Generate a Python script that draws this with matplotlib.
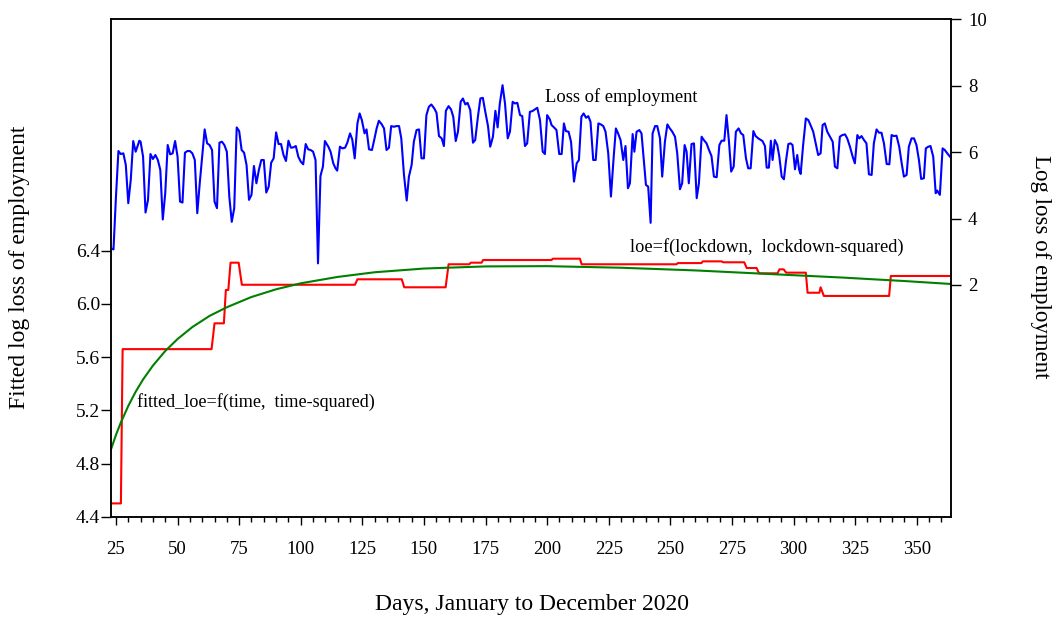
import numpy as np
import matplotlib
matplotlib.use("Agg")
import matplotlib.pyplot as plt
from matplotlib.ticker import MultipleLocator

plt.rcParams['font.family'] = ['Liberation Serif', 'DejaVu Serif']

# Loss of employment (log), right axis
blue_days = [23.0, 24.0, 25.0, 26.0, 26.9, 28.0, 29.0, 30.0, 31.0, 32.0, 33.0, 34.5, 35.0, 36.0, 37.0, 38.0,
             39.0, 40.0, 41.0, 42.0, 43.0, 44.0, 45.0, 46.0, 47.0, 48.0, 49.0, 50.0, 51.0, 52.0, 53.0, 54.0,
             55.0, 56.0, 57.0, 58.0, 59.0, 60.0, 61.0, 62.0, 63.0, 64.0, 65.0, 66.0, 67.0, 68.0, 69.0, 70.0,
             71.0, 72.0, 73.0, 74.0, 75.0, 76.0, 77.0, 78.0, 79.0, 80.0, 81.0, 82.0, 83.0, 84.0, 85.0, 86.0,
             87.0, 88.0, 89.0, 90.0, 91.0, 92.0, 93.0, 94.0, 95.0, 96.0, 97.0, 98.0, 99.0, 100.0, 101.0, 102.0,
             103.0, 104.0, 105.0, 106.0, 107.0, 108.0, 109.0, 109.8, 111.2, 112.1, 113.2, 114.1, 114.8, 115.9,
             116.9, 118.0, 118.9, 120.0, 120.9, 121.9, 123.0, 123.9, 124.8, 125.9, 126.7, 127.7, 128.9, 129.8,
             130.8, 131.7, 132.8, 133.8, 134.8, 135.8, 136.7, 137.8, 138.9, 139.9, 140.8, 141.9, 143.0, 143.9,
             145.0, 145.9, 147.0, 148.0, 149.0, 150.0, 151.0, 152.0, 153.0, 154.2, 155.1, 156.1, 157.2, 158.1,
             158.9, 160.0, 161.0, 161.9, 162.9, 163.8, 164.9, 165.8, 166.8, 167.7, 168.8, 169.9, 170.8, 171.9,
             172.9, 173.9, 174.9, 176.0, 176.9, 178.0, 179.0, 179.9, 180.8, 181.9, 182.9, 184.0, 184.9, 186.0,
             186.9, 187.9, 189.0, 189.9, 191.0, 191.9, 193.0, 194.0, 195.0, 196.0, 197.1, 198.2, 199.1, 200.0,
             201.1, 201.8, 202.8, 203.8, 204.9, 205.9, 206.8, 207.6, 208.7, 209.7, 210.9, 212.0, 212.9, 213.9,
             214.8, 215.8, 216.7, 217.6, 218.7, 219.7, 220.8, 221.8, 222.8, 223.7, 224.8, 225.9, 227.0, 227.9,
             228.9, 229.8, 230.9, 231.8, 232.8, 233.6, 234.7, 235.4, 236.3, 237.4, 238.3, 239.3, 240.1, 241.0,
             242.0, 242.8, 243.8, 244.7, 245.8, 246.7, 247.8, 248.8, 249.8, 250.8, 251.9, 252.8, 253.9, 254.8,
             255.8, 256.6, 257.5, 258.6, 259.6, 260.7, 261.6, 262.7, 263.6, 264.7, 265.7, 266.7, 267.7, 268.8,
             269.9, 270.8, 271.9, 272.8, 273.8, 274.7, 275.7, 276.6, 277.7, 278.7, 279.6, 280.7, 281.6, 282.6,
             283.7, 284.6, 285.7, 287.4, 288.4, 289.1, 290.0, 290.8, 291.5, 292.4, 293.4, 294.2, 295.2, 296.1,
             296.9, 297.9, 298.8, 299.6, 300.6, 301.5, 302.3, 302.9, 303.9, 305.0, 306.0, 306.9, 308.0, 309.0,
             310.0, 311.0, 311.8, 312.7, 313.7, 314.8, 315.9, 316.8, 317.8, 318.8, 319.8, 320.9, 321.8, 322.9,
             324.0, 324.9, 325.9, 326.7, 327.6, 328.6, 329.6, 330.6, 331.7, 332.6, 333.7, 334.7, 335.7, 336.7,
             337.8, 338.9, 339.8, 340.7, 341.8, 342.9, 343.9, 344.8, 345.9, 346.8, 347.9, 348.9, 349.9, 350.9,
             351.8, 352.9, 353.7, 354.7, 355.6, 356.7, 357.7, 358.3, 359.4, 360.5, 361.4, 362.4, 363.5]
blue_vals = [3.10, 3.07, 4.66, 6.03, 5.94, 5.96, 5.61, 4.46, 5.16, 6.33, 6.01, 6.34, 6.31, 5.86, 4.18, 4.56,
             5.94, 5.79, 5.91, 5.76, 5.46, 3.97, 4.76, 6.21, 5.93, 5.96, 6.33, 5.86, 4.51, 4.48, 5.98, 6.03,
             6.03, 5.96, 5.76, 4.16, 5.06, 5.88, 6.68, 6.26, 6.21, 6.06, 4.51, 4.31, 6.28, 6.31, 6.21, 6.01,
             4.66, 3.90, 4.31, 6.74, 6.63, 6.06, 5.98, 5.61, 4.56, 4.71, 5.58, 5.06, 5.46, 5.76, 5.76, 4.78,
             4.96, 5.68, 5.81, 6.59, 6.24, 6.24, 5.91, 5.73, 6.34, 6.13, 6.14, 6.18, 5.86, 5.71, 5.63, 6.24,
             6.08, 6.06, 6.01, 5.76, 2.65, 5.28, 5.56, 6.33, 6.16, 6.01, 5.66, 5.51, 5.44, 6.16,
             6.11, 6.13, 6.28, 6.56, 6.38, 5.81, 6.86, 7.16, 6.96, 6.56, 6.68, 6.08, 6.06, 6.36,
             6.71, 6.94, 6.84, 6.71, 6.06, 6.13, 6.78, 6.76, 6.78, 6.78, 6.41, 5.31, 4.54, 5.26,
             5.61, 6.31, 6.66, 6.68, 5.81, 5.81, 7.11, 7.36, 7.43, 7.31, 7.18, 6.48, 6.41, 6.18,
             7.24, 7.38, 7.28, 7.06, 6.33, 6.61, 7.51, 7.61, 7.43, 7.48, 7.26, 6.28, 6.36, 7.06,
             7.61, 7.63, 7.21, 6.78, 6.16, 6.46, 7.24, 6.74, 7.46, 8.01, 7.46, 6.41, 6.61, 7.51,
             7.46, 7.48, 7.11, 7.08, 6.18, 6.26, 7.21, 7.23, 7.28, 7.33, 6.96, 6.01, 5.94, 7.11,
             6.98, 6.81, 6.74, 6.66, 5.94, 5.94, 6.86, 6.63, 6.61, 6.31, 5.11, 5.66, 5.76, 7.06,
             7.16, 7.03, 7.08, 6.91, 5.76, 5.76, 6.86, 6.83, 6.78, 6.61, 5.96, 4.66, 5.84, 6.71,
             6.54, 6.36, 5.76, 6.18, 4.91, 5.06, 6.54, 6.01, 6.61, 6.66, 6.56, 5.71, 5.01, 4.96,
             3.87, 6.56, 6.78, 6.78, 6.41, 5.26, 6.31, 6.83, 6.71, 6.61, 6.46, 5.96, 4.88, 5.06,
             6.21, 6.01, 5.06, 6.24, 6.26, 4.61, 5.06, 6.46, 6.36, 6.26, 6.06, 5.88, 5.26, 5.24,
             6.21, 6.34, 6.34, 7.11, 6.31, 5.41, 5.56, 6.61, 6.71, 6.56, 6.51, 5.81, 5.51, 5.51,
             6.63, 6.48, 6.41, 6.33, 6.18, 5.53, 5.53, 6.34, 5.76, 6.36, 6.21, 5.88, 5.26, 5.18,
             5.71, 6.24, 6.26, 6.21, 5.48, 5.91, 5.46, 5.34, 6.21, 7.01, 6.96, 6.81, 6.61, 6.26,
             5.91, 5.96, 6.81, 6.86, 6.61, 6.46, 6.31, 5.56, 5.51, 6.46, 6.51, 6.53, 6.41, 6.16,
             5.86, 5.66, 6.51, 6.41, 6.48, 6.36, 6.26, 5.33, 5.31, 6.26, 6.68, 6.58, 6.58, 6.26,
             5.64, 5.63, 6.51, 6.48, 6.49, 6.16, 5.66, 5.26, 5.31, 6.16, 6.41, 6.41, 6.21, 5.76,
             5.19, 5.21, 6.11, 6.16, 6.18, 5.86, 4.76, 4.84, 4.71, 6.11, 6.06, 5.96, 5.86]

# loe = f(lockdown, lockdown-squared), left axis
red_days = [23, 27, 27.7, 63.8, 65, 68.8, 69.6, 70.6, 71.5, 74.8, 76.1, 122, 123, 141, 142, 158.8, 160,
            168.4, 169, 173.4, 174, 201.8, 202.3, 213.3, 214, 252.5, 253, 262.6, 263.2, 270.8, 271.5,
            280, 281, 285, 286, 293.5, 294.3, 296, 297, 305, 305.7, 310.5, 311, 312.3, 338.8, 339.5, 363.8]
red_vals = [4.50, 4.50, 5.66, 5.66, 5.854, 5.854, 6.105, 6.105, 6.31, 6.31, 6.144, 6.144, 6.185, 6.185,
            6.125, 6.125, 6.298, 6.298, 6.31, 6.31, 6.33, 6.33, 6.34, 6.34, 6.298, 6.298, 6.307, 6.307,
            6.32, 6.32, 6.313, 6.313, 6.27, 6.27, 6.23, 6.23, 6.26, 6.26, 6.235, 6.235, 6.084, 6.084,
            6.125, 6.06, 6.06, 6.21, 6.21]

# fitted_loe = f(time, time-squared), left axis
green_days = [23, 25, 27, 30, 33, 36, 40, 45, 50, 56, 63, 70, 80, 90, 100, 115, 130, 150, 175, 200,
              230, 260, 290, 320, 345, 363.8]
green_vals = [4.907, 5.015, 5.109, 5.233, 5.340, 5.432, 5.536, 5.646, 5.736, 5.826, 5.910, 5.975, 6.052,
              6.110, 6.155, 6.203, 6.238, 6.266, 6.282, 6.284, 6.272, 6.252, 6.225, 6.198, 6.172, 6.150]

fig = plt.figure(figsize=(10.58, 6.18), dpi=100)
ax = fig.add_axes([0.1046, 0.1639, 0.7940, 0.8053])
ax.plot(red_days, red_vals, color='#ff0000', linewidth=1.5)
ax.plot(green_days, green_vals, color='#008000', linewidth=1.5)
ax.set_xlim(22.85, 363.8)
ax.set_ylim(4.4, 8.142)
ax.set_yticks([4.4, 4.8, 5.2, 5.6, 6.0, 6.4])
ax.set_yticklabels(['4.4', '4.8', '5.2', '5.6', '6.0', '6.4'])
ax.set_xticks(np.arange(25, 351, 25))
ax.xaxis.set_minor_locator(MultipleLocator(5))
ax.tick_params(axis='x', which='major', length=5.5, width=1, labelsize=13.5, pad=12)
ax.tick_params(axis='x', which='minor', length=3.5, width=1)
ax.tick_params(axis='y', length=7.5, width=1, labelsize=14, pad=0)

ax2 = ax.twinx()
ax2.plot(blue_days, blue_vals, color='#0000ff', linewidth=1.5)
ax2.set_ylim(-4.97, 10)
ax2.set_yticks([2, 4, 6, 8, 10])
ax2.tick_params(axis='y', length=7.5, width=1, labelsize=13.5, pad=5)
for a in (ax, ax2):
    for s in a.spines.values():
        s.set_linewidth(1.1)
        s.set_color('black')

ax.text(199.3, 7.556, 'Loss of employment', fontsize=13.3, va='center')
ax.text(233.6, 6.43, 'loe=f(lockdown,  lockdown-squared)', fontsize=13.2, va='center')
ax.text(33.7, 5.26, 'fitted_loe=f(time,  time-squared)', fontsize=13.1, va='center')

fig.text(0.018, 0.567, 'Fitted log loss of employment', rotation=90, fontsize=17, va='center', ha='center')
fig.text(0.983, 0.569, 'Log loss of employment', rotation=270, fontsize=16.5, va='center', ha='center')
fig.text(0.503, 0.022, 'Days, January to December 2020', fontsize=17, va='center', ha='center')

fig.savefig('out.png', dpi=100)
